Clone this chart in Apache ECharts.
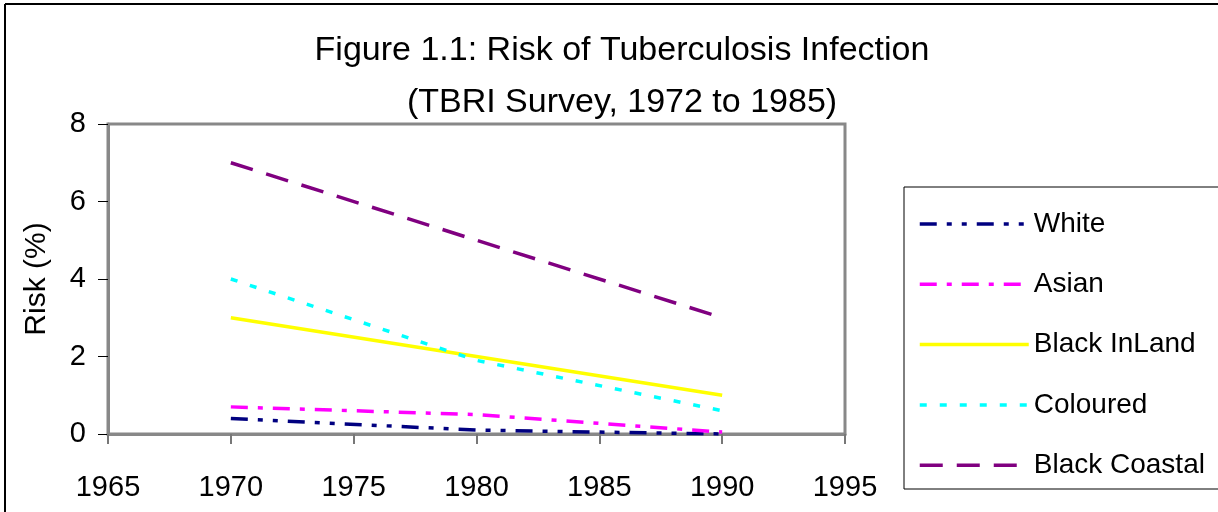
<!DOCTYPE html>
<html>
<head>
<meta charset="utf-8">
<script src="https://cdn.jsdelivr.net/npm/echarts@6/dist/echarts.min.js"></script>
<style>
  html, body { margin: 0; padding: 0; background: #fff; }
  #chart { width: 1218px; height: 512px; }
</style>
</head>
<body>
<div id="chart"></div>
<script>
// survey years and risk values (%)
var years = [1970, 1980, 1990];
var seriesNames = ['White', 'Asian', 'Black InLand', 'Coloured', 'Black Coastal'];
var white = [0.4, 0.1, 0];
var asian = [0.7, 0.5, 0.05];
var blackInland = [3, 2, 1];
var coloured = [4, 1.9, 0.6];
var blackCoastal = [7, 5, 3];

var colors = ['#000080', '#ff00ff', '#ffff00', '#00ffff', '#800080'];
var dashes = [[17, 10, 5, 10, 5, 10], [17, 10, 5, 10], 'solid', [7, 13], [23, 14]];
var values = [white, asian, blackInland, coloured, blackCoastal];

function pairs (vals) {
  return years.map(function (y, i) { return [y, vals[i]]; });
}

var font = 'Arial, "Liberation Sans", sans-serif';

var chart = echarts.init(document.getElementById('chart'));
chart.setOption({
  backgroundColor: '#fff',
  animation: false,
  title: {
    text: 'Figure 1.1: Risk of Tuberculosis Infection\n(TBRI Survey, 1972 to 1985)',
    left: 617,
    top: 20,
    textAlign: 'center',
    textStyle: { fontFamily: font, fontSize: 34, fontWeight: 'normal', color: '#000', lineHeight: 52 }
  },
  grid: {
    left: 108, right: 373, top: 124, bottom: 78,
    show: true, borderColor: '#888', borderWidth: 3, backgroundColor: '#fff'
  },
  legend: {
    orient: 'vertical',
    left: 918,
    top: 210,
    padding: 0,
    itemWidth: 109,
    itemHeight: 14,
    itemGap: 32.3,
    itemStyle: { opacity: 0 },
    lineStyle: { width: 3.5 },
    textStyle: { fontFamily: font, fontSize: 28, color: '#000', padding: [0, 0, 0, 0] },
    data: seriesNames
  },
  xAxis: {
    type: 'value',
    min: 1965, max: 1995, interval: 5,
    axisLine: { show: true, lineStyle: { color: '#888', width: 3 } },
    axisTick: { show: true, length: 10, lineStyle: { color: '#777', width: 2 } },
    axisLabel: { fontFamily: font, fontSize: 29, color: '#000', margin: 39, formatter: function (v) { return String(v); } },
    splitLine: { show: false }
  },
  yAxis: {
    type: 'value',
    min: 0, max: 8, interval: 2,
    name: 'Risk (%)',
    nameLocation: 'middle',
    nameGap: 56,
    nameTextStyle: { fontFamily: font, fontSize: 30, color: '#000' },
    axisLine: { show: true, lineStyle: { color: '#888', width: 3 } },
    axisTick: { show: true, length: 10, lineStyle: { color: '#000', width: 1 } },
    axisLabel: { fontFamily: font, fontSize: 29, color: '#000', margin: 22 },
    splitLine: { show: false }
  },
  graphic: [
    { type: 'line', shape: { x1: 5, y1: 4, x2: 1218, y2: 4 }, style: { stroke: '#000', lineWidth: 2 } },
    { type: 'line', shape: { x1: 5, y1: 4, x2: 5, y2: 512 }, style: { stroke: '#000', lineWidth: 2 } },
    { type: 'rect', z: -1, shape: { x: 904, y: 187, width: 330, height: 302 }, style: { fill: '#fff', stroke: '#000', lineWidth: 1 } }
  ],
  series: seriesNames.map(function (name, i) {
    return {
      name: name,
      type: 'line',
      symbol: 'none',
      data: pairs(values[i]),
      itemStyle: { color: colors[i] },
      lineStyle: { color: colors[i], width: 3.5, type: dashes[i], cap: 'butt' }
    };
  })
});
</script>
</body>
</html>
